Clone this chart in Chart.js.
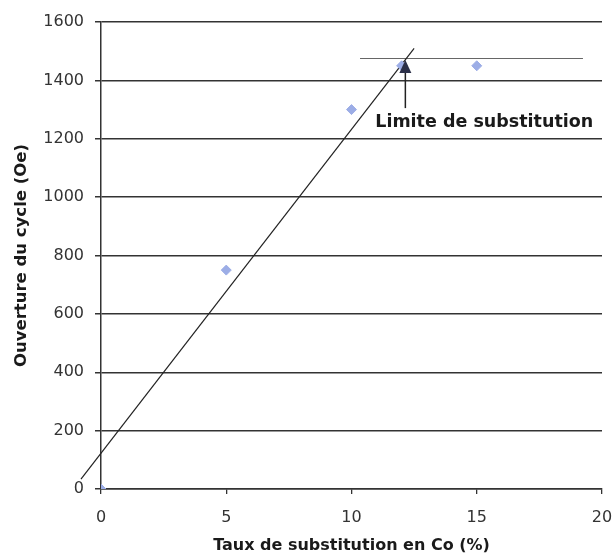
<!DOCTYPE html>
<html>
<head>
<meta charset="utf-8">
<script src="https://cdn.jsdelivr.net/npm/chart.js@4"></script>
<style>
  html, body { margin: 0; padding: 0; background: #fff; }
  #wrap { width: 615px; height: 559px; }
</style>
</head>
<body>
<div id="wrap"><canvas id="chart" width="615" height="559"></canvas></div>
<script>
// measured values
const tauxCo = [0, 5, 10, 12, 15];
const ouverture = [0, 750, 1300, 1450, 1450];

// trend line and plateau
const trendX = [-0.8, 12.5];
const trendY = [34, 1510];
const plateauX = [10.34, 19.24];
const plateauY = [1475, 1475];

// annotation: arrow + label
const arrowX = 12.15;
const arrowFrom = 1305;
const arrowTo = 1470;
const labelX = 15.3;
const labelY = 1257;
const labelText = 'Limite de substitution';

const xTicks = [0, 5, 10, 15, 20];
const yTicks = [0, 200, 400, 600, 800, 1000, 1200, 1400, 1600];

const toXY = (xs, ys) => xs.map((x, i) => ({ x: x, y: ys[i] }));

// draws the arrow and its label
const annotationPlugin = {
    id: 'limite',
    afterDatasetsDraw(chart) {
        const { ctx, scales: { x, y } } = chart;
        const px = x.getPixelForValue(arrowX);
        const y0 = y.getPixelForValue(arrowFrom);
        const y1 = y.getPixelForValue(arrowTo);
        ctx.save();
        ctx.strokeStyle = '#222';
        ctx.lineWidth = 1.5;
        ctx.beginPath();
        ctx.moveTo(px, y0);
        ctx.lineTo(px, y1 + 10);
        ctx.stroke();
        ctx.fillStyle = '#2b2f48';
        ctx.beginPath();
        ctx.moveTo(px, y1);
        ctx.lineTo(px - 6, y1 + 13);
        ctx.lineTo(px + 6, y1 + 13);
        ctx.closePath();
        ctx.fill();
        ctx.fillStyle = '#1a1a1a';
        ctx.font = 'bold 17.5px "DejaVu Sans"';
        ctx.textAlign = 'center';
        ctx.textBaseline = 'middle';
        ctx.fillText(labelText, x.getPixelForValue(labelX), y.getPixelForValue(labelY));
        ctx.restore();
    }
};

new Chart(document.getElementById('chart'), {
    type: 'scatter',
    data: {
        datasets: [
            {
                label: 'Ouverture',
                data: toXY(tauxCo, ouverture),
                backgroundColor: '#9cade6',
                borderColor: '#9cade6',
                pointStyle: 'rectRot',
                pointRadius: 5,
                order: 1
            },
            {
                type: 'line',
                label: 'Tendance',
                data: toXY(trendX, trendY),
                borderColor: '#222',
                borderWidth: 1.2,
                pointRadius: 0,
                clip: false,
                order: 2
            },
            {
                type: 'line',
                label: 'Plateau',
                data: toXY(plateauX, plateauY),
                borderColor: '#666',
                borderWidth: 1.2,
                pointRadius: 0,
                order: 3
            }
        ]
    },
    options: {
        responsive: false,
        animation: false,
        events: [],
        layout: { padding: { top: 22, right: 13, left: 0, bottom: 0 } },
        plugins: {
            legend: { display: false },
            tooltip: { enabled: false }
        },
        scales: {
            x: {
                type: 'linear',
                min: 0,
                max: 20,
                afterBuildTicks: s => { s.ticks = xTicks.map(v => ({ value: v })); },
                afterFit: s => { s.height = 70; s.paddingLeft = 0; s.paddingRight = 0; },
                grid: { drawOnChartArea: false, drawTicks: true, tickLength: 5, color: '#333', lineWidth: 1.3 },
                border: { display: true, color: '#333', width: 1.5 },
                ticks: {
                    color: '#333',
                    font: { family: 'DejaVu Sans', size: 16 },
                    padding: 14,
                    maxRotation: 0,
                    callback: v => String(v)
                },
                title: {
                    display: true,
                    text: 'Taux de substitution en Co (%)',
                    color: '#1a1a1a',
                    font: { family: 'DejaVu Sans', size: 16, weight: 'bold' },
                    padding: { top: 4, bottom: 4 }
                }
            },
            y: {
                type: 'linear',
                min: 0,
                max: 1600,
                afterBuildTicks: s => { s.ticks = yTicks.map(v => ({ value: v })); },
                afterFit: s => { s.width = 101; s.paddingTop = 0; s.paddingBottom = 0; },
                grid: { color: '#333', lineWidth: 1.5, tickLength: 6 },
                border: { display: true, color: '#333', width: 1.5 },
                ticks: {
                    color: '#333',
                    font: { family: 'DejaVu Sans', size: 16 },
                    padding: 11,
                    callback: v => String(v)
                },
                title: {
                    display: true,
                    text: 'Ouverture du cycle (Oe)',
                    color: '#1a1a1a',
                    font: { family: 'DejaVu Sans', size: 16.5, weight: 'bold' },
                    padding: { top: 12, bottom: 2 }
                }
            }
        }
    },
    plugins: [annotationPlugin]
});
</script>
</body>
</html>
